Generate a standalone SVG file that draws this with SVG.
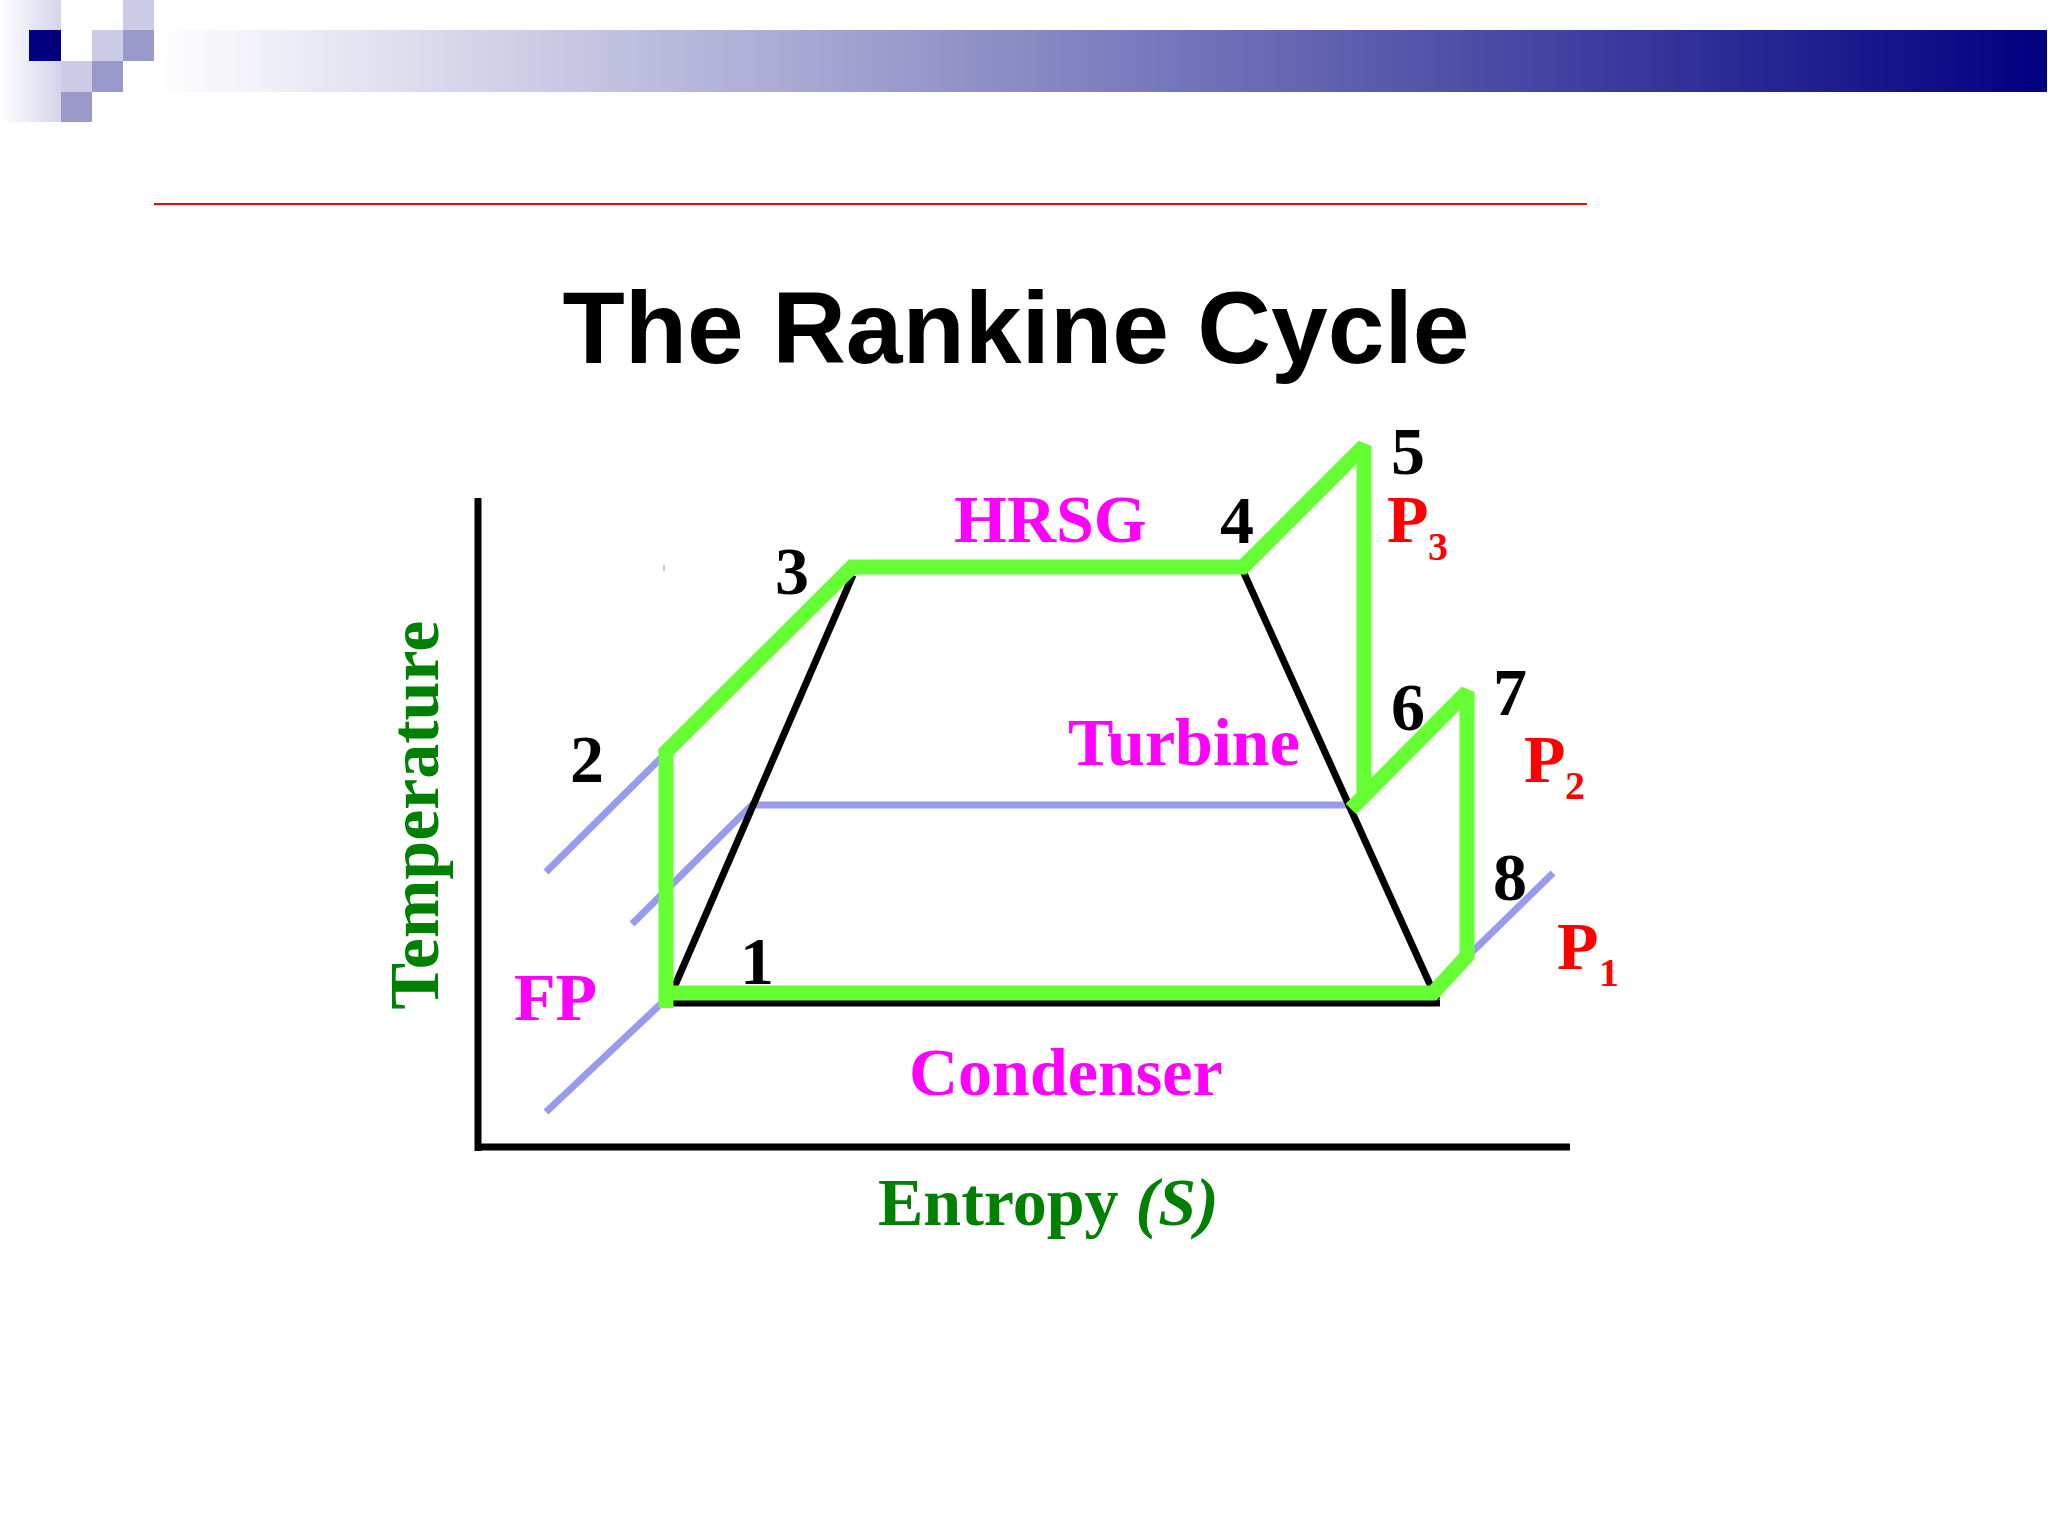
<svg xmlns="http://www.w3.org/2000/svg" width="2048" height="1536" viewBox="0 0 2048 1536">
  <defs>
    <linearGradient id="barGrad" x1="0" y1="0" x2="1" y2="0">
      <stop offset="0" stop-color="#FFFFFF"/>
      <stop offset="1" stop-color="#000080"/>
    </linearGradient>
    <linearGradient id="fadeGrad" x1="0" y1="0" x2="1" y2="0">
      <stop offset="0" stop-color="#FFFFFF"/>
      <stop offset="1" stop-color="#D4D4EA"/>
    </linearGradient>
    <style>
      .lbl { font-family: "Liberation Serif", "Times New Roman", serif; font-weight: bold; font-size: 68px; }
      .num { fill: #000000; text-anchor: middle; }
      .mag { fill: #FF00FF; }
      .red { fill: #FF0000; }
      .grn { fill: #008000; }
      .lav { stroke: #9999EE; stroke-width: 7; fill: none; }
      .blk { stroke: #000000; stroke-width: 7; fill: none; }
      .cyc { stroke: #66FF33; stroke-width: 15; fill: none; stroke-linejoin: miter; stroke-miterlimit: 1.5; }
      .lt { fill: #CCCCE6; }
      .md { fill: #9999CC; }
    </style>
  </defs>
  <rect width="2048" height="1536" fill="#FFFFFF"/>

  <g id="header">
    <rect x="0" y="0" width="61" height="122" fill="url(#fadeGrad)"/>
    <rect x="154" y="30" width="1893" height="62" fill="url(#barGrad)"/>
    <rect x="29" y="30" width="32" height="31" fill="#000080"/>
    <rect class="lt" x="123" y="0" width="31" height="30"/>
    <rect class="lt" x="92" y="30" width="31" height="31"/>
    <rect class="md" x="123" y="30" width="31" height="31"/>
    <rect class="lt" x="61" y="61" width="31" height="31"/>
    <rect class="md" x="92" y="61" width="31" height="31"/>
    <rect class="md" x="61" y="92" width="31" height="30"/>
    <line x1="154" y1="204" x2="1587" y2="204" stroke="#FF0000" stroke-width="2"/>
  </g>

  <g id="title">
    <text x="1016" y="363" text-anchor="middle" font-family="'Liberation Sans', Arial, sans-serif" font-weight="bold" font-size="102" fill="#000000">The Rankine Cycle</text>
  </g>

  <g id="axes">
    <line class="blk" x1="478" y1="498" x2="478" y2="1151" stroke-width="7.5"/>
    <line class="blk" x1="475" y1="1147" x2="1570" y2="1147" stroke-width="8"/>
  </g>

  <g id="connectors">
    <g id="isobars">
      <line class="lav" x1="546" y1="872" x2="666" y2="753"/>
      <polyline class="lav" points="632,924 752,805 1350,805"/>
      <line class="lav" x1="546" y1="1112" x2="666" y2="999"/>
      <line class="lav" x1="1553" y1="873" x2="1467" y2="957"/>
    </g>
    <g id="saturation-dome">
      <line class="blk" x1="673" y1="990" x2="853" y2="575"/>
      <line class="blk" x1="1243" y1="571" x2="1437" y2="1000"/>
      <line class="blk" x1="668" y1="1003" x2="1440" y2="1003"/>
    </g>
    <line x1="664" y1="565" x2="664" y2="571" stroke="#999999" stroke-width="1"/>
    <g id="cycle">
      <polyline class="cyc" points="666,1008 666,752 852,567 1243,567 1364,446 1364,796 1351,809 1467,692 1467,956 1433,993 666,993"/>
    </g>
  </g>

  <g id="state-labels" class="lbl">
    <text class="num" x="757" y="984">1</text>
    <text class="num" x="587" y="782">2</text>
    <text class="num" x="792" y="594">3</text>
    <text class="num" x="1237" y="543">4</text>
    <text class="num" x="1408" y="474">5</text>
    <text class="num" x="1408" y="730">6</text>
    <text class="num" x="1510" y="715">7</text>
    <text class="num" x="1510" y="900">8</text>
  </g>

  <g id="pressure-labels" class="lbl red">
    <text x="1387" y="542">P<tspan x="1428" y="560" font-size="40">3</tspan></text>
    <text x="1524" y="782">P<tspan x="1565" y="799" font-size="40">2</tspan></text>
    <text x="1557" y="969">P<tspan x="1599" y="986" font-size="40">1</tspan></text>
  </g>

  <g id="component-labels" class="lbl mag">
    <text x="954" y="542">HRSG</text>
    <text x="1068" y="765">Turbine</text>
    <text x="909" y="1095">Condenser</text>
    <text x="514" y="1020">FP</text>
  </g>

  <g id="axis-labels" class="lbl grn">
    <text x="878" y="1225">Entropy <tspan font-style="italic">(S)</tspan></text>
    <text transform="translate(438,815) rotate(-90)" text-anchor="middle" font-size="70">Temperature</text>
  </g>
</svg>
